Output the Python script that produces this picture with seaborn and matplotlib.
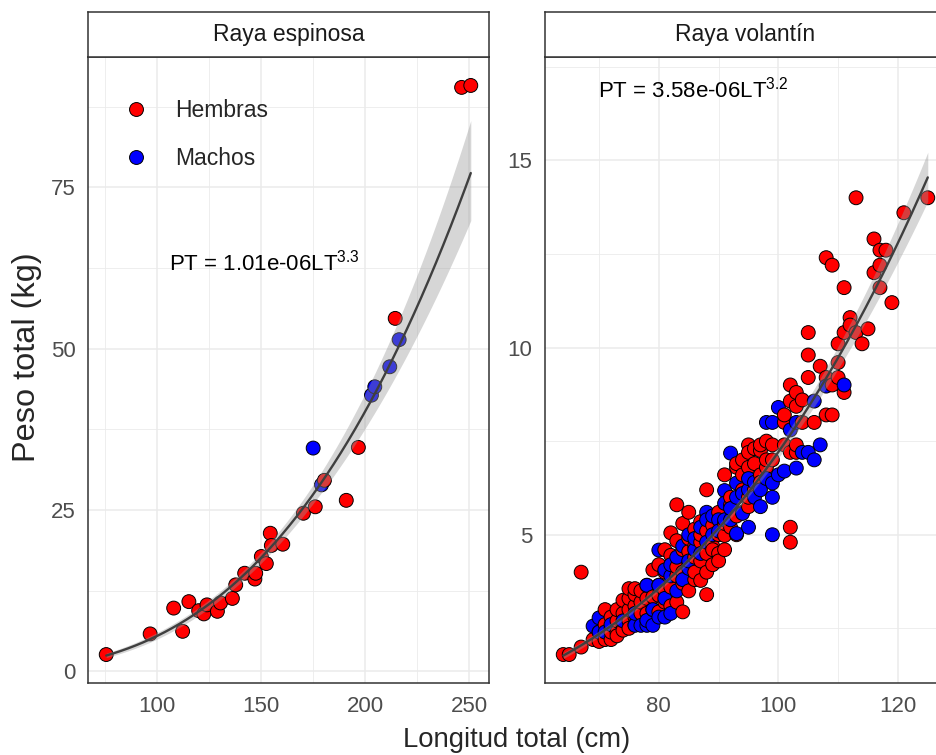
import numpy as np
import pandas as pd
import matplotlib
matplotlib.use("Agg")
import matplotlib.pyplot as plt
import seaborn as sns

# Raya espinosa
esp_h_lt = [75.6, 96.7, 108, 112.3, 115.3, 120, 122.5, 124, 129, 130.5, 136.2, 137.8,
            142.1, 147.4, 147, 150.1, 152.5, 154.4, 154.9, 160.4, 170.3, 176, 180.4,
            196.7, 190.9, 214.4, 246.3, 250.7]
esp_h_pt = [2.6, 5.8, 9.8, 6.2, 10.8, 9.4, 8.9, 10.3, 9.3, 10.6, 11.3, 13.4,
            15.2, 15.2, 14.3, 17.8, 16.7, 21.4, 19.5, 19.7, 24.5, 25.5, 29.6,
            34.7, 26.5, 54.7, 90.5, 90.8]
esp_m_lt = [175, 179, 203, 204.6, 211.8, 216.3]
esp_m_pt = [34.6, 28.9, 42.8, 44.1, 47.2, 51.4]

# Raya volantin: length (cm) and the weights (kg) read at that length
vol_h_lt = [64, 65, 67, 69, 70, 71, 72, 73, 74, 75, 76, 77, 78, 79, 80, 81, 82, 83, 84,
            85, 86, 87, 88, 89, 90, 91, 92, 93, 94, 95, 96, 97, 98, 99, 101, 102, 103,
            104, 105, 106, 107, 108, 109, 110, 111, 112, 113, 114, 115, 116, 117, 118,
            119, 121, 125]
vol_h_pt = [[1.8], [1.8], [2.0, 4.0], [2.2], [2.4, 2.15], [2.2, 2.6, 3.0],
            [2.2, 2.5, 2.8, 2.4], [2.4, 2.7, 3.0, 2.3], [2.6, 2.9, 3.25, 2.45],
            [2.7, 3.0, 3.3, 3.56, 2.5], [2.8, 3.1, 3.4, 3.56, 2.6], [2.9, 3.2, 3.5],
            [2.9, 3.3, 3.65, 2.7], [3.0, 3.34, 4.06], [2.94, 3.38, 3.65, 4.2],
            [3.2, 3.5, 4.0, 4.6], [3.1, 3.6, 4.45, 5.05], [3.2, 3.9, 4.14, 4.84, 5.8],
            [2.94, 3.7, 4.0, 4.6, 5.3], [3.5, 4.2, 4.55, 5.6, 4.9],
            [3.8, 4.0, 4.4, 5.15, 4.7], [3.78, 4.3, 5.35, 4.8, 5.0],
            [3.4, 4.5, 4.0, 5.1, 6.2], [4.2, 4.7, 5.25, 4.6], [4.5, 5.0, 5.6, 4.3],
            [4.98, 6.6, 5.3, 4.6], [5.2, 5.8, 6.0], [5.5, 6.8, 6.9, 5.0],
            [5.6, 6.2, 6.6, 7.0], [5.75, 6.8, 7.4, 7.2, 6.0], [6.2, 6.9, 7.3],
            [6.6, 7.25, 7.4, 6.4], [6.8, 7.0, 7.5], [7.4, 7.0], [7.4, 8.0, 8.2],
            [8.57, 9.0, 4.8, 5.2, 7.2], [8.8, 8.43, 7.2, 7.4], [8.6, 8.0],
            [9.2, 9.8, 10.4], [8.0], [9.5], [9.2, 12.4, 8.2], [12.2, 8.2, 9.0],
            [9.6, 9.2, 10.1], [8.8, 10.4, 11.6], [10.8, 10.6], [14.0, 10.4], [10.1],
            [10.5], [12.0, 12.9], [12.2, 11.6, 12.6], [12.6], [11.2], [13.6], [14.0]]
vol_m_lt = [69, 70, 71, 72, 74, 76, 77, 78, 79, 80, 81, 82, 83, 84, 85, 86, 87, 88, 89,
            90, 91, 92, 93, 94, 95, 96, 97, 98, 99, 100, 101, 102, 103, 104, 105, 106,
            107, 108, 111]
vol_m_pt = [[2.56], [2.78, 2.4], [2.4], [2.6], [2.7], [2.58, 2.9], [2.58],
            [2.58, 2.71, 3.65], [2.58, 3.0], [4.59, 3.65, 2.8], [2.8, 3.3, 4.06],
            [2.9, 3.9, 4.2], [3.5, 4.4], [3.8, 4.7], [4.1, 4.3, 5.0], [4.6, 4.9],
            [4.5, 5.2], [5.6, 5.4, 4.8], [5.0, 5.5], [5.4, 5.1], [6.18, 5.84, 5.4],
            [5.4, 5.7, 7.18], [6.38, 5.03, 6.0], [5.57, 6.1], [5.2, 6.2, 6.5],
            [6.0, 6.4], [5.75, 6.2], [8.0, 6.5], [6.0, 6.38, 5.0, 8.0], [6.6, 8.4],
            [6.7], [7.8], [8.0, 6.78], [7.2], [7.2], [7.0, 8.57], [7.4], [8.97], [9.0]]

eq_esp = "PT = 1.01e-06LT$^{3.3}$"
eq_vol = "PT = 3.58e-06LT$^{3.2}$"


def flatten(lengths, weights):
    lt = [l for l, ws in zip(lengths, weights) for _ in ws]
    pt = [w for ws in weights for w in ws]
    return lt, pt


def make_df(h_lt, h_pt, m_lt, m_pt):
    df = pd.DataFrame({
        'LT': list(h_lt) + list(m_lt),
        'PT': list(h_pt) + list(m_pt),
        'Sexo': ['Hembras'] * len(h_lt) + ['Machos'] * len(m_lt),
    })
    return df.sort_values('LT', kind='mergesort').reset_index(drop=True)


def power_fit(lt, pt, n=200):
    lt = np.asarray(lt, float)
    pt = np.asarray(pt, float)
    X = np.column_stack([np.ones_like(lt), np.log(lt)])
    y = np.log(pt)
    beta, *_ = np.linalg.lstsq(X, y, rcond=None)
    resid = y - X @ beta
    s2 = resid @ resid / (len(y) - 2)
    cov = s2 * np.linalg.inv(X.T @ X)
    grid = np.linspace(lt.min(), lt.max(), n)
    G = np.column_stack([np.ones_like(grid), np.log(grid)])
    mu = G @ beta
    se = np.sqrt(np.einsum('ij,jk,ik->i', G, cov, G))
    return grid, np.exp(mu), np.exp(mu - 1.96 * se), np.exp(mu + 1.96 * se)


def expand(lo, hi, mult=0.05):
    r = hi - lo
    return lo - mult * r, hi + mult * r


esp = make_df(esp_h_lt, esp_h_pt, esp_m_lt, esp_m_pt)
vh_lt, vh_pt = flatten(vol_h_lt, vol_h_pt)
vm_lt, vm_pt = flatten(vol_m_lt, vol_m_pt)
vol = make_df(vh_lt, vh_pt, vm_lt, vm_pt)

sns.set_style("white")
plt.rcParams['font.family'] = ['Liberation Sans', 'DejaVu Sans']
plt.rcParams['mathtext.fontset'] = 'custom'
plt.rcParams['mathtext.rm'] = 'Liberation Sans'
plt.rcParams['mathtext.it'] = 'Liberation Sans:italic'

W, H = 936, 755
fig = plt.figure(figsize=(W / 100, H / 100), dpi=100)
fig.patch.set_facecolor('white')

pal = {'Hembras': '#FF0000', 'Machos': '#0000FF'}
border = '#333333'


def panel(left_px, df, title, eq, eq_xy, xticks, xminor, yticks, yminor, ylim_extra, legend):
    ax = fig.add_axes([left_px / W, 1 - 683 / H, 401 / W, 626 / H])
    strip = fig.add_axes([left_px / W, 1 - 57 / H, 401 / W, 45 / H])
    strip.set_xticks([])
    strip.set_yticks([])
    for s in strip.spines.values():
        s.set_color(border)
        s.set_linewidth(1.1)
    strip.text(0.5, 0.5, title, ha='center', va='center', fontsize=16.5,
               color='#1A1A1A', transform=strip.transAxes)

    sns.scatterplot(data=df, x='LT', y='PT', hue='Sexo', hue_order=['Hembras', 'Machos'],
                    palette=pal, s=100, edgecolor='black', linewidth=0.7,
                    legend=legend, ax=ax, zorder=3)
    grid, mu, lo, hi = power_fit(df['LT'], df['PT'])
    ax.fill_between(grid, lo, hi, color='#999999', alpha=0.4, lw=0, zorder=4)
    ax.plot(grid, mu, color='#3F3F3F', lw=1.7, zorder=5)
    ax.text(eq_xy[0], eq_xy[1], eq, ha='center', va='center', fontsize=16,
            color='black', zorder=6)

    ax.set_xlim(*expand(df['LT'].min(), df['LT'].max()))
    ax.set_ylim(*expand(min(df['PT'].min(), ylim_extra), max(df['PT'].max(), ylim_extra)))
    ax.set_xticks(xticks)
    ax.set_xticks(xminor, minor=True)
    ax.set_yticks(yticks)
    ax.set_yticks(yminor, minor=True)
    ax.grid(which='major', color='#EBEBEB', lw=1.1)
    ax.grid(which='minor', color='#EBEBEB', lw=0.6)
    ax.set_axisbelow(True)
    ax.tick_params(which='major', length=5.5, width=0.8, color=border,
                   labelcolor='#4D4D4D', labelsize=16, pad=3.5)
    ax.tick_params(which='minor', length=0)
    for s in ax.spines.values():
        s.set_color(border)
        s.set_linewidth(1.1)
    ax.set_xlabel('')
    ax.set_ylabel('')

    if legend:
        old = ax.get_legend()
        handles = old.legend_handles
        labels = [t.get_text() for t in old.get_texts()]
        for h in handles:
            h.set_markersize(10)
            h.set_markeredgecolor('black')
            h.set_markeredgewidth(0.7)
        ax.legend(handles, labels, loc='upper left', bbox_to_anchor=(0.0905, 0.933),
                  frameon=False, fontsize=16.5, handlelength=1.0, handletextpad=1.21,
                  labelspacing=1.09, borderaxespad=0, borderpad=0)
    return ax


panel(88, esp, 'Raya espinosa', eq_esp, (151.7, 63.4),
      [100, 150, 200, 250], [75, 125, 175, 225],
      [0, 25, 50, 75], [12.5, 37.5, 62.5, 87.5], 63.4, 'auto')
panel(545, vol, 'Raya volantín', eq_vol, (85.8, 16.9),
      [80, 100, 120], [70, 90, 110],
      [5, 10, 15], [2.5, 7.5, 12.5, 17.5], 17.0, False)

fig.text(27.5 / W, 1 - 357 / H, 'Peso total (kg)', rotation=90, ha='center', va='center',
         fontsize=23.4)
fig.text(517 / W, 1 - 740 / H, 'Longitud total (cm)', ha='center', va='center',
         fontsize=19.8)

fig.savefig('out.png', dpi=100, facecolor='white')
